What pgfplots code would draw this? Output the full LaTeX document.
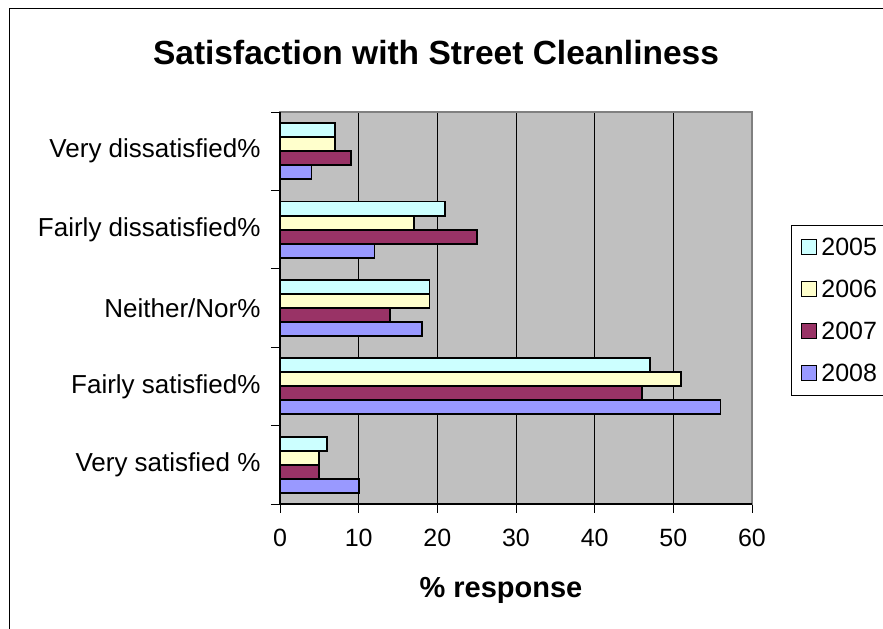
\documentclass[border=0pt]{standalone}
\usepackage{pgfplots}
\pgfplotsset{compat=1.18}
\usepackage{fontspec}
\setmainfont{Liberation Sans}
\definecolor{c2005}{HTML}{CCFFFF}
\definecolor{c2006}{HTML}{FFFFCC}
\definecolor{c2007}{HTML}{993366}
\definecolor{c2008}{HTML}{9999FF}
\definecolor{plotbg}{HTML}{C0C0C0}
\definecolor{plotedge}{HTML}{808080}
\newcommand{\lbl}{\fontsize{26bp}{30bp}\selectfont}
\newcommand{\tck}{\fontsize{25bp}{30bp}\selectfont}
\begin{document}
\begin{tikzpicture}
% page frame (629 tall, y measured from the bottom)
\useasboundingbox (0bp,0bp) rectangle (883bp,629bp);
\draw[line width=1.3bp] (9.5bp,-5bp) -- (9.5bp,620.5bp) -- (900bp,620.5bp);
\node[font=\fontsize{33.5bp}{38bp}\selectfont\bfseries] at (436bp,576bp) {Satisfaction with Street Cleanliness};
\node[font=\fontsize{29bp}{33bp}\selectfont\bfseries] at (501bp,39bp) {\% response};
\begin{axis}[
  at={(280bp,125bp)}, anchor=south west,
  width=472bp, height=392bp, scale only axis,
  xbar, bar width=14bp,
  xmin=0, xmax=60, ymin=-0.5, ymax=4.5,
  axis background/.style={fill=plotbg},
  axis line style={draw=plotedge, line width=1.5bp},
  xtick={0,10,...,60},
  xtick pos=bottom, ytick pos=left,
  xmajorgrids, grid style={black, line width=0.8bp},
  tick align=outside, major tick length=9bp,
  tick style={black, line width=0.8bp},
  x tick label style={font=\tck, yshift=-13bp},
  /pgf/number format/assume math mode=true,
  ytick={-0.5,0.5,...,4.5}, yticklabels={},
  extra y ticks={0,1,2,3,4},
  extra y tick labels={Very satisfied \%, Fairly satisfied\%, Neither/Nor\%, Fairly dissatisfied\%, Very dissatisfied\%},
  extra y tick style={major tick length=0pt, grid=none, yticklabel style={font=\lbl, xshift=-16bp}},
  legend style={at={(1.0826,0.7117)}, anchor=north west, draw=black, line width=0.8bp,
    fill=white, inner sep=1bp, font=\tck,
    nodes={inner sep=0pt, minimum height=42bp}},
  legend cell align=left,
  legend image code/.code={
    \path[draw=none, fill=none] (0bp,0bp) -- (25bp,0bp);
    \draw[#1, draw=black, line width=1bp] (9bp,-7.5bp) rectangle (24bp,7.5bp);},
  clip=false,
]
\addplot[fill=c2005, draw=black, line width=1.8bp, bar shift=21bp] coordinates {(6,0) (47,1) (19,2) (21,3) (7,4)};
\addplot[fill=c2006, draw=black, line width=1.8bp, bar shift=7bp] coordinates {(5,0) (51,1) (19,2) (17,3) (7,4)};
\addplot[fill=c2007, draw=black, line width=1.8bp, bar shift=-7bp] coordinates {(5,0) (46,1) (14,2) (25,3) (9,4)};
\addplot[fill=c2008, draw=black, line width=1.8bp, bar shift=-21bp] coordinates {(10,0) (56,1) (18,2) (12,3) (4,4)};
\legend{\makebox[80bp][l]{\hspace{4bp}2005},\makebox[80bp][l]{\hspace{4bp}2006},\makebox[80bp][l]{\hspace{4bp}2007},\makebox[80bp][l]{\hspace{4bp}2008}}
\draw[black, line width=1.2bp] (rel axis cs:0,1) -- (rel axis cs:0,0) -- (rel axis cs:1,0);
\end{axis}
\end{tikzpicture}
\end{document}
